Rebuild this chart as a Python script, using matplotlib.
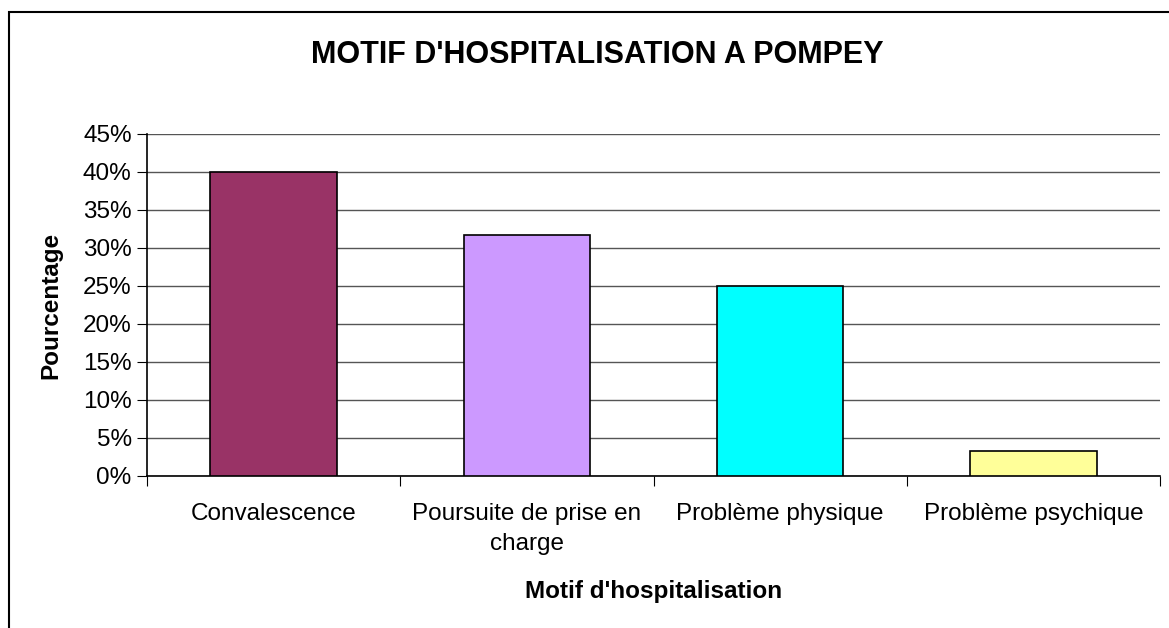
import numpy as np
import matplotlib.pyplot as plt
from matplotlib.patches import Rectangle
from matplotlib.ticker import FixedLocator, PercentFormatter

plt.rcParams['font.family'] = ['Liberation Sans', 'DejaVu Sans']

categories = ['Convalescence', 'Poursuite de prise en\ncharge', 'Problème physique', 'Problème psychique']
values = [40.0, 31.67, 25.0, 3.33]
colors = ['#993366', '#CC99FF', '#00FFFF', '#FFFF99']
yticks = [0, 5, 10, 15, 20, 25, 30, 35, 40, 45]

W, H = 1169, 628
fig = plt.figure(figsize=(W / 100, H / 100), dpi=100)
ax = fig.add_axes([147 / W, 1 - 476 / H, (1160 - 147) / W, (476 - 134) / H])

# border round the chart area
fig.patches.append(Rectangle((9 / W, -0.1), 1.2, 1.1 - 12 / H, transform=fig.transFigure,
                             fill=False, edgecolor='black', linewidth=1.5))

x = np.arange(len(categories))
ax.bar(x, values, width=0.5, color=colors, edgecolor='black', linewidth=1.2, zorder=3)

ax.set_xlim(-0.5, len(categories) - 0.5)
ax.set_ylim(0, 45)
ax.set_yticks(yticks)
ax.yaxis.set_major_formatter(PercentFormatter(decimals=0))
ax.grid(axis='y', color='#555555', linewidth=1, zorder=0)
ax.tick_params(axis='y', direction='out', length=7, labelsize=17.5, pad=4)

ax.xaxis.set_major_locator(FixedLocator(np.arange(-0.5, len(categories), 1.0)))
ax.xaxis.set_minor_locator(FixedLocator(x))
ax.set_xticklabels([], minor=False)
ax.set_xticklabels(categories, minor=True, linespacing=1.45)
ax.tick_params(axis='x', which='major', direction='out', length=7)
ax.tick_params(axis='x', which='minor', length=0, labelsize=17.5, pad=19.5)

for s in ['top', 'right']:
    ax.spines[s].set_visible(False)
for s in ['left', 'bottom']:
    ax.spines[s].set_linewidth(1.2)

ax.set_ylabel('Pourcentage', fontsize=17.5, fontweight='bold', labelpad=15)
ax.set_xlabel("Motif d'hospitalisation", fontsize=17.5, fontweight='bold', labelpad=18)
fig.text(597 / W, 1 - 55 / H, "MOTIF D'HOSPITALISATION A POMPEY", ha='center', va='center',
         fontsize=22, fontweight='bold')

fig.savefig('out.png', dpi=100)
